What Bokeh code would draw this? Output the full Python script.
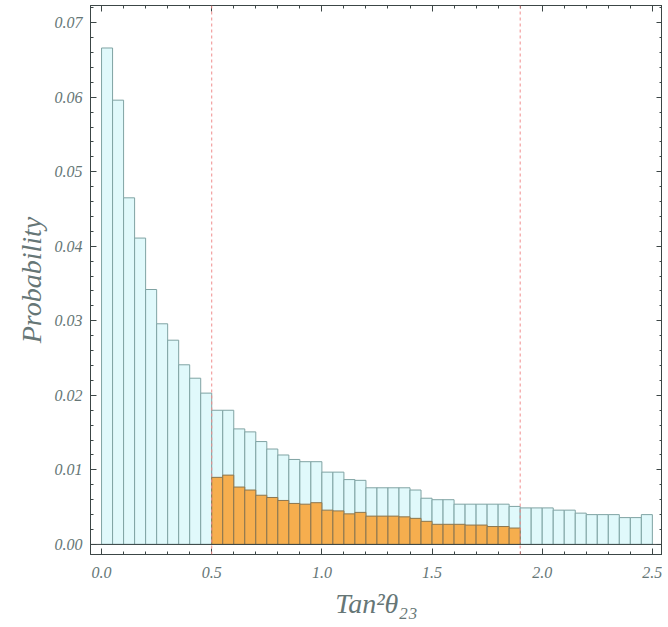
import numpy as np
from bokeh.plotting import figure
from bokeh.models import LinearAxis, FixedTicker, NumeralTickFormatter, Span, Range1d
from bokeh.embed import file_html
from bokeh.resources import INLINE

# ---- data ----
bin_width = 0.05
bin_left = [round(i * bin_width, 2) for i in range(50)]
all_prob = [
    0.0666, 0.0596, 0.0465, 0.0411, 0.0342, 0.0296, 0.0274, 0.0241, 0.0223, 0.0203,
    0.0180, 0.0180, 0.0155, 0.0151, 0.0138, 0.0128, 0.0120, 0.0114, 0.0111, 0.0111,
    0.0097, 0.0097, 0.0087, 0.0086, 0.0076, 0.0076, 0.0076, 0.0076, 0.0073, 0.0062,
    0.0060, 0.0060, 0.0054, 0.0054, 0.0054, 0.0054, 0.0054, 0.0051, 0.0049, 0.0049,
    0.0049, 0.0046, 0.0046, 0.0042, 0.0040, 0.0040, 0.0040, 0.0036, 0.0036, 0.0040,
]
sel_left = [round(0.5 + i * bin_width, 2) for i in range(28)]
sel_prob = [
    0.0090, 0.0093, 0.0077, 0.0073, 0.0066, 0.0063, 0.0059, 0.0055, 0.0054, 0.0056,
    0.0046, 0.0045, 0.0041, 0.0043, 0.0038, 0.0038, 0.0038, 0.0037, 0.0035, 0.0031,
    0.0027, 0.0027, 0.0027, 0.0026, 0.0026, 0.0024, 0.0024, 0.0022,
]
cut_lines = [0.5, 1.9]
x_major = [0.0, 0.5, 1.0, 1.5, 2.0, 2.5]
x_minor = [round(i * 0.1, 1) for i in range(26)]
y_major = [0.00, 0.01, 0.02, 0.03, 0.04, 0.05, 0.06, 0.07]
y_minor = [round(i * 0.002, 3) for i in range(37)]

FONT = "Liberation Serif"
TXT = "#667676"
FRAME = "#3c4646"

p = figure(width=662, height=626,
           x_range=Range1d(-0.0502, 2.546), y_range=Range1d(-0.00135, 0.0723),
           output_backend="svg", toolbar_location=None,
           min_border_left=90, min_border_bottom=72, min_border_top=5, min_border_right=0)
p.xgrid.visible = False
p.ygrid.visible = False
p.outline_line_color = FRAME
p.background_fill_color = "white"

p.quad(left=bin_left, right=[l + bin_width for l in bin_left], bottom=0, top=all_prob,
       fill_color="#e0f9fb", line_color="#7fa3a3", line_width=1)
p.quad(left=sel_left, right=[l + bin_width for l in sel_left], bottom=0, top=sel_prob,
       fill_color="#f6ae4e", line_color="#8a7650", line_width=1)

for c in cut_lines:
    p.add_layout(Span(location=c, dimension="height", line_color="#f08c8c",
                      line_dash="3 3", line_width=1))
p.add_layout(Span(location=0, dimension="width", line_color=FRAME, line_width=1))

def style(ax, labels=True):
    ax.axis_line_color = FRAME
    ax.major_tick_line_color = FRAME
    ax.minor_tick_line_color = FRAME
    ax.major_tick_in = 6
    ax.major_tick_out = 0
    ax.minor_tick_in = 3
    ax.minor_tick_out = 0
    if labels:
        ax.major_label_text_font = FONT
        ax.major_label_text_font_style = "italic"
        ax.major_label_text_font_size = "16px"
        ax.major_label_text_color = TXT
        ax.axis_label_text_font = FONT
        ax.axis_label_text_font_style = "italic"
        ax.axis_label_text_font_size = "28px"
        ax.axis_label_text_color = TXT
    else:
        ax.major_label_text_font_size = "0px"
        ax.major_label_standoff = 0
        ax.major_label_text_alpha = 0

xt = FixedTicker(ticks=x_major, minor_ticks=x_minor)
yt = FixedTicker(ticks=y_major, minor_ticks=y_minor)

xa = p.xaxis[0]
xa.ticker = xt
xa.formatter = NumeralTickFormatter(format="0.0")
xa.axis_label = "Tan²θ₂₃"
xa.major_label_standoff = 12
xa.axis_label_standoff = 7
style(xa)

ya = p.yaxis[0]
ya.ticker = yt
ya.formatter = NumeralTickFormatter(format="0.00")
ya.axis_label = "Probability"
ya.major_label_standoff = 8
ya.axis_label_standoff = 5
style(ya)

top = LinearAxis(ticker=FixedTicker(ticks=x_major, minor_ticks=x_minor))
style(top, labels=False)
p.add_layout(top, "above")
right = LinearAxis(ticker=FixedTicker(ticks=y_major, minor_ticks=y_minor))
style(right, labels=False)
p.add_layout(right, "right")

open("out.html", "w").write(file_html(p, INLINE))
